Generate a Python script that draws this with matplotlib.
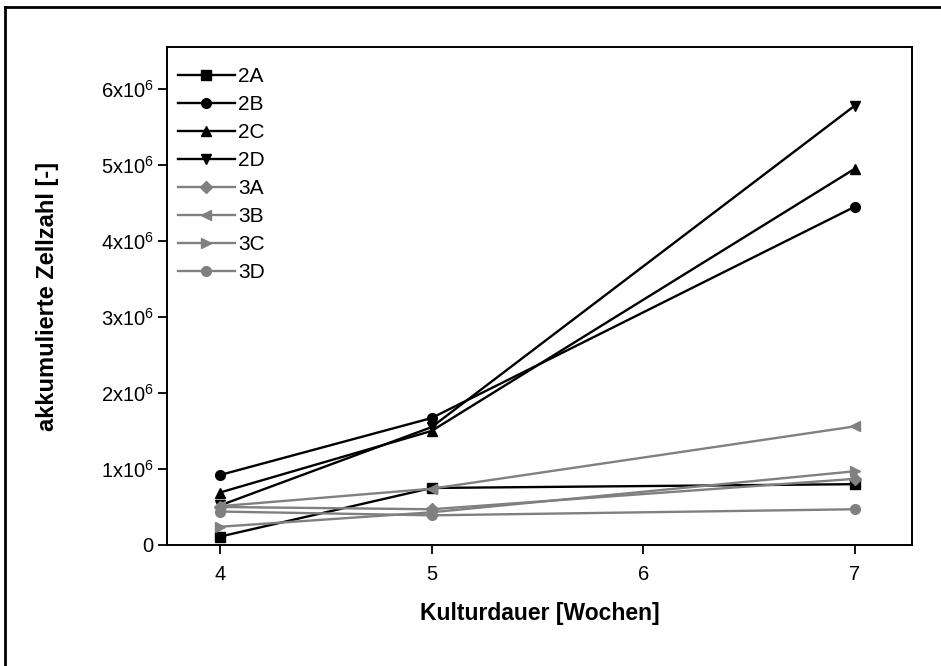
import matplotlib
matplotlib.use('Agg')
import matplotlib.pyplot as plt
from matplotlib.lines import Line2D

plt.rcParams['font.family'] = ['Liberation Sans', 'DejaVu Sans']
plt.rcParams['mathtext.fontset'] = 'custom'
plt.rcParams['mathtext.rm'] = 'Liberation Sans'
plt.rcParams['mathtext.it'] = 'Liberation Sans'

# Kulturdauer in Wochen
wochen = [4, 5, 7]

# akkumulierte Zellzahl je Ansatz
z_2a = [0.11e6, 0.75e6, 0.80e6]
z_2b = [0.92e6, 1.67e6, 4.45e6]
z_2c = [0.69e6, 1.50e6, 4.95e6]
z_2d = [0.52e6, 1.55e6, 5.78e6]
z_3a = [0.50e6, 0.47e6, 0.87e6]
z_3b = [0.51e6, 0.74e6, 1.56e6]
z_3c = [0.24e6, 0.43e6, 0.97e6]
z_3d = [0.44e6, 0.39e6, 0.47e6]

namen = ['2A', '2B', '2C', '2D', '3A', '3B', '3C', '3D']
reihen = [z_2a, z_2b, z_2c, z_2d, z_3a, z_3b, z_3c, z_3d]
marker = ['s', 'o', '^', 'v', 'D', '<', '>', 'o']
farben = ['black'] * 4 + ['#808080'] * 4

y_ticks = [0, 1e6, 2e6, 3e6, 4e6, 5e6, 6e6]
y_labels = ['0'] + [f'{i}x10$^6$' for i in range(1, 7)]

fig = plt.figure(figsize=(9.41, 6.66), dpi=100)
ax = fig.add_axes([0.1775, 0.1817, 0.7917, 0.7477])

for name, werte, m, c in zip(namen, reihen, marker, farben):
    ms = 6 if m == 'D' else 7
    ax.plot(wochen, werte, color=c, marker=m, markersize=ms,
            linewidth=1.7, label=name)

ax.set_xlim(3.75, 7.27)
ax.set_ylim(0, 6.55e6)
ax.set_xticks([4, 5, 6, 7])
ax.set_yticks(y_ticks)
ax.set_yticklabels(y_labels)
ax.tick_params(direction='out', length=6.5, width=1.3, labelsize=14.5)
ax.tick_params(axis='x', pad=8)
ax.tick_params(axis='y', pad=3)
for s in ax.spines.values():
    s.set_linewidth(1.4)

ax.set_xlabel('Kulturdauer [Wochen]', fontsize=16.5, fontweight='bold', labelpad=13)
ax.set_ylabel('akkumulierte Zellzahl [-]', fontsize=17, fontweight='bold', labelpad=30)

ax.legend(loc='upper left', bbox_to_anchor=(0.003, 0.976), frameon=False,
          fontsize=15, handlelength=2.75, handletextpad=0.15,
          labelspacing=0.43, borderaxespad=0, borderpad=0.4)

# Rahmen oben und links
fig.add_artist(Line2D([5 / 941, 1], [1 - 7 / 666, 1 - 7 / 666],
                      color='black', linewidth=2, transform=fig.transFigure))
fig.add_artist(Line2D([5 / 941, 5 / 941], [0, 1 - 7 / 666],
                      color='black', linewidth=2, transform=fig.transFigure))

fig.savefig('out.png', dpi=100)
